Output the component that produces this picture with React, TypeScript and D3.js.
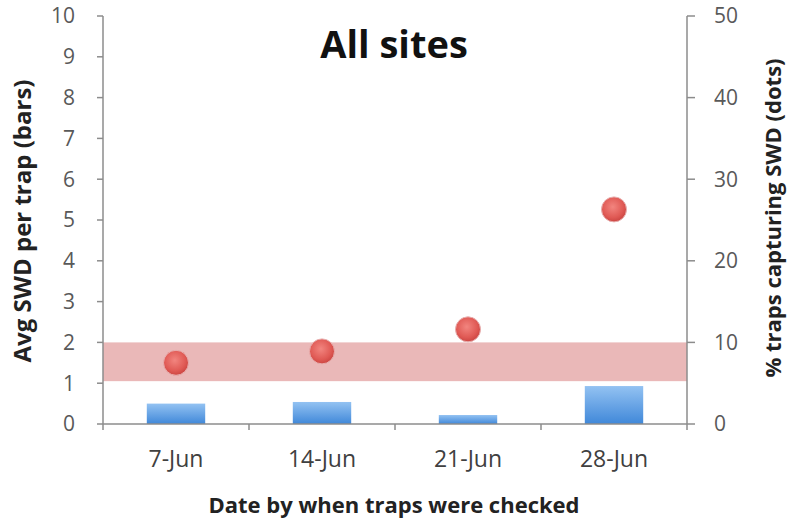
import React from "react";
import * as d3 from "d3";

const categories = ["7-Jun", "14-Jun", "21-Jun", "28-Jun"];
const avgSwd = [0.5, 0.54, 0.22, 0.93];
const pctTraps = [7.5, 8.9, 11.6, 26.3];
const leftTicks = [0, 1, 2, 3, 4, 5, 6, 7, 8, 9, 10];
const rightTicks = [0, 10, 20, 30, 40, 50];
const bandRange = [1.05, 2];

const W = 789;
const H = 523;
const M = { left: 103, right: 687, top: 16, bottom: 424 };
const FONT = "'Open Sans', 'DejaVu Sans', sans-serif";

export default function App() {
  const x = d3.scaleBand<string>().domain(categories).range([M.left, M.right]).paddingInner(0.6).paddingOuter(0.3);
  const xOuter = d3.scaleBand<string>().domain(categories).range([M.left, M.right]);
  const yL = d3.scaleLinear().domain([0, 10]).range([M.bottom, M.top]);
  const yR = d3.scaleLinear().domain([0, 50]).range([M.bottom, M.top]);
  const axisColor = "#8c8c8c";
  const textColor = "#595959";
  const cx = (c: string) => (xOuter(c) as number) + xOuter.bandwidth() / 2;
  const boundaries = [...categories.map((c) => xOuter(c) as number), M.right];

  return (
    <svg width={W} height={H} style={{ position: "absolute", left: 0, top: 0, background: "#fff" }} fontFamily={FONT}>
      <defs>
        <linearGradient id="barGrad" x1="0" y1="0" x2="0" y2="1">
          <stop offset="0" stopColor="#93c2f2" />
          <stop offset="1" stopColor="#4088d9" />
        </linearGradient>
        <radialGradient id="dotGrad" cx="0.45" cy="0.4" r="0.6">
          <stop offset="0" stopColor="#f2857f" />
          <stop offset="0.7" stopColor="#e05a55" />
          <stop offset="1" stopColor="#cc4642" />
        </radialGradient>
      </defs>

      <rect
        x={M.left}
        width={M.right - M.left}
        y={yL(bandRange[1])}
        height={yL(bandRange[0]) - yL(bandRange[1])}
        fill="#eab8b8"
      />

      {categories.map((c, i) => (
        <rect
          key={c}
          x={x(c)}
          width={x.bandwidth()}
          y={yL(avgSwd[i])}
          height={yL(0) - yL(avgSwd[i])}
          fill="url(#barGrad)"
        />
      ))}

      {/* axes */}
      <line x1={M.left} x2={M.left} y1={M.top} y2={M.bottom} stroke={axisColor} strokeWidth={1.5} />
      <line x1={M.right} x2={M.right} y1={M.top} y2={M.bottom} stroke={axisColor} strokeWidth={1.5} />
      <line x1={M.left} x2={M.right} y1={M.bottom} y2={M.bottom} stroke={axisColor} strokeWidth={1.5} />

      {leftTicks.map((t) => (
        <g key={"l" + t}>
          <line x1={M.left - 6} x2={M.left} y1={yL(t)} y2={yL(t)} stroke={axisColor} strokeWidth={1.5} />
          <text x={M.left - 28} y={yL(t)} dy="0.35em" textAnchor="end" fontSize={21} fill={textColor}>
            {t}
          </text>
        </g>
      ))}
      {rightTicks.map((t) => (
        <g key={"r" + t}>
          <line x1={M.right} x2={M.right + 8} y1={yR(t)} y2={yR(t)} stroke={axisColor} strokeWidth={1.5} />
          <text x={M.right + 27} y={yR(t)} dy="0.35em" textAnchor="start" fontSize={21} fill={textColor}>
            {t}
          </text>
        </g>
      ))}
      {boundaries.map((b, i) => (
        <line key={"xt" + i} x1={b} x2={b} y1={M.bottom} y2={M.bottom + 6} stroke={axisColor} strokeWidth={1.5} />
      ))}
      {categories.map((c) => (
        <text key={"xl" + c} x={cx(c)} y={467} textAnchor="middle" fontSize={23} fill="#404040">
          {c}
        </text>
      ))}

      {categories.map((c, i) => (
        <circle key={"d" + c} cx={cx(c)} cy={yR(pctTraps[i])} r={12.5} fill="url(#dotGrad)" stroke="#e8b0b0" strokeWidth={1} />
      ))}

      <text x={394} y={58} textAnchor="middle" fontSize={38} fontWeight="bold" fill="#111">
        All sites
      </text>
      <text x={394} y={513} textAnchor="middle" fontSize={22} fontWeight="bold" fill="#222">
        Date by when traps were checked
      </text>
      <text transform="translate(31,221) rotate(-90)" textAnchor="middle" fontSize={24} fontWeight="bold" fill="#222">
        Avg SWD per trap (bars)
      </text>
      <text transform="translate(781,218) rotate(-90)" textAnchor="middle" fontSize={22} fontWeight="bold" fill="#222">
        % traps capturing SWD (dots)
      </text>
    </svg>
  );
}
